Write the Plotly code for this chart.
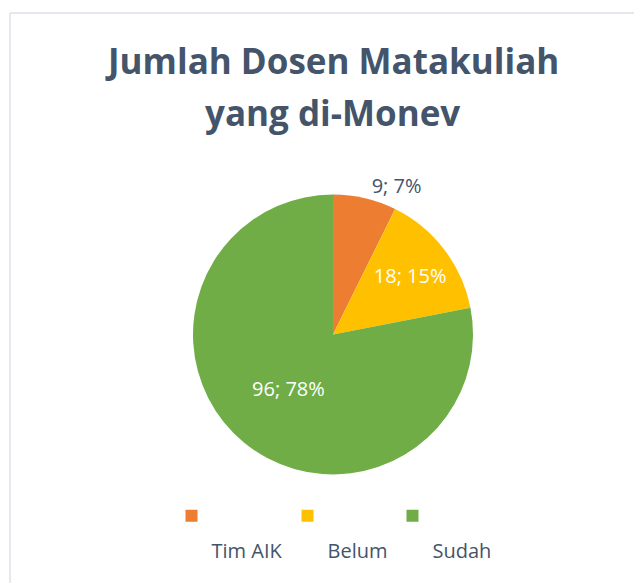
import plotly.graph_objects as go

categories = ["Tim AIK", "Belum", "Sudah"]
values = [9, 18, 96]
colors = ["#ED7D31", "#FFC000", "#70AD47"]
title_lines = ["Jumlah Dosen Matakuliah", "yang di-Monev"]

# the page body adds an 8 px margin, so the figure is drawn 8 px smaller
OFF = 8
W, H = 642 - OFF, 583 - OFF


def px(x):
    return (x - OFF) / W


def py(y):
    return 1 - (y - OFF) / H


legend_labels = ["<br><span style='font-size:20px'>" + c + "</span>" for c in categories]

fig = go.Figure(
    go.Pie(
        labels=legend_labels,
        values=values,
        sort=False,
        direction="clockwise",
        rotation=0,
        marker=dict(colors=colors, line=dict(width=0)),
        texttemplate="%{value}; %{percent:.0%}",
        textposition=["outside", "inside", "inside"],
        insidetextorientation="horizontal",
        textfont=dict(family="Open Sans", size=20),
        insidetextfont=dict(color="white", family="Open Sans", size=20),
        outsidetextfont=dict(color="#44546A", family="Open Sans", size=20),
        domain=dict(x=[px(193), px(473)], y=[py(475), py(194)]),
        hoverinfo="value+percent",
        showlegend=True,
    )
)

annotations = []
for line, yc in zip(title_lines, [60.5, 112.5]):
    annotations.append(
        dict(
            text="<b>" + line + "</b>",
            xref="paper", yref="paper",
            x=px(332), y=py(yc),
            xanchor="center", yanchor="middle",
            showarrow=False,
            font=dict(family="Open Sans", size=35, color="#44546A"),
        )
    )

fig.update_layout(
    width=W,
    height=H,
    margin=dict(l=0, r=0, t=0, b=0),
    paper_bgcolor="white",
    annotations=annotations,
    legend=dict(
        orientation="h",
        x=px(334),
        xanchor="center",
        y=py(493),
        yanchor="top",
        valign="top",
        font=dict(family="Open Sans", size=25, color="#44546A"),
        traceorder="normal",
    ),
    shapes=[
        dict(type="line", xref="paper", yref="paper", x0=px(10), x1=1.02, y0=py(13), y1=py(13),
             line=dict(color="#DCE1E8", width=1.5)),
        dict(type="line", xref="paper", yref="paper", x0=px(10), x1=px(10), y0=-0.02, y1=py(13),
             line=dict(color="#DCE1E8", width=1.5)),
    ],
)

fig.write_html("out.html")
